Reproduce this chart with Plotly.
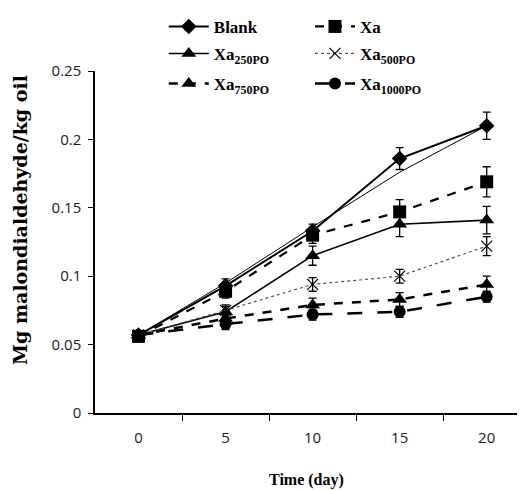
import plotly.graph_objects as go

days = [0, 5, 10, 15, 20]
tick_labels = ["0", "5", "10", "15", "20"]

blank = [0.057, 0.093, 0.133, 0.186, 0.210]
blank_err = [0.003, 0.005, 0.005, 0.008, 0.010]
blank_thin = [0.057, 0.095, 0.136, 0.176, 0.210]

xa = [0.056, 0.089, 0.130, 0.147, 0.169]
xa_err = [0.003, 0.005, 0.006, 0.009, 0.011]

xa250 = [0.057, 0.074, 0.115, 0.138, 0.141]
xa250_err = [0.003, 0.004, 0.007, 0.009, 0.010]

xa500 = [0.057, 0.075, 0.094, 0.100, 0.122]
xa500_err = [0.003, 0.004, 0.005, 0.005, 0.007]

xa750 = [0.057, 0.069, 0.079, 0.083, 0.094]
xa750_err = [0.003, 0.004, 0.005, 0.005, 0.006]

xa1000 = [0.057, 0.065, 0.072, 0.074, 0.085]
xa1000_err = [0.003, 0.004, 0.004, 0.004, 0.004]

fig = go.Figure()

def err(e):
    return dict(type="data", array=e, visible=True, color="black", thickness=1.3, width=4)

lf = dict(family="Liberation Serif", size=17, color="black")

fig.add_trace(go.Scatter(x=days, y=blank_thin, mode="lines", line=dict(color="black", width=1),
                         showlegend=False, hoverinfo="skip"))
fig.add_trace(go.Scatter(x=days, y=blank, name="<b>Blank</b>", mode="lines+markers",
                         line=dict(color="black", width=2),
                         marker=dict(symbol="diamond", size=12, color="black"),
                         error_y=err(blank_err), legend="legend"))
fig.add_trace(go.Scatter(x=days, y=xa, name="<b>Xa</b>", mode="lines+markers",
                         line=dict(color="black", width=2.2, dash="dash"),
                         marker=dict(symbol="square", size=13, color="black"),
                         error_y=err(xa_err), legend="legend2"))
fig.add_trace(go.Scatter(x=days, y=xa250, name="<b>Xa<sub>250PO</sub></b>", mode="lines+markers",
                         line=dict(color="black", width=1.6),
                         marker=dict(symbol="triangle-up", size=13, color="black"),
                         error_y=err(xa250_err), legend="legend3"))
fig.add_trace(go.Scatter(x=days, y=xa500, name="<b>Xa<sub>500PO</sub></b>", mode="lines+markers",
                         line=dict(color="#555555", width=1.2, dash="dot"),
                         marker=dict(symbol="x-thin-open", size=11, color="black",
                                     line=dict(color="black", width=1.2)),
                         error_y=err(xa500_err), legend="legend4"))
fig.add_trace(go.Scatter(x=days, y=xa750, name="<b>Xa<sub>750PO</sub></b>", mode="lines+markers",
                         line=dict(color="black", width=2.5, dash="dash"),
                         marker=dict(symbol="triangle-up", size=13, color="black"),
                         error_y=err(xa750_err), legend="legend5"))
fig.add_trace(go.Scatter(x=days, y=xa1000, name="<b>Xa<sub>1000PO</sub></b>", mode="lines+markers",
                         line=dict(color="black", width=2.5, dash="longdash"),
                         marker=dict(symbol="circle", size=12, color="black"),
                         error_y=err(xa1000_err), legend="legend6"))

tickfont = dict(family="Open Sans", size=15, color="#222222")

def leg(x, y):
    return dict(x=x, y=y, xanchor="left", yanchor="middle", font=lf,
                bgcolor="rgba(0,0,0,0)", itemwidth=40)

fig.update_layout(
    width=517, height=482,
    margin=dict(l=87, r=0, t=63, b=77),
    plot_bgcolor="white", paper_bgcolor="white",
    xaxis=dict(range=[-2.5, 22.2], tickvals=days, ticktext=tick_labels, ticks="",
               showline=True, linecolor="black", linewidth=1.5, showgrid=False, zeroline=False,
               tickfont=tickfont, ticklabelstandoff=10,
               minor=dict(tickmode="array", tickvals=[2.5, 7.5, 12.5, 17.5], ticks="outside",
                          ticklen=6, tickwidth=1.3, tickcolor="black", showgrid=False)),
    yaxis=dict(range=[0, 0.25], tickvals=[0, 0.05, 0.1, 0.15, 0.2, 0.25],
               ticktext=["0", "0.05", "0.1", "0.15", "0.2", "0.25"],
               ticks="outside", ticklen=5, tickwidth=1.3, tickcolor="black",
               showline=True, linecolor="black", linewidth=1.5, showgrid=False, zeroline=False,
               tickfont=tickfont, ticklabelstandoff=4),
    legend=leg(0.16, 1.129),
    legend2=leg(0.5, 1.129),
    legend3=leg(0.16, 1.05),
    legend4=leg(0.5, 1.05),
    legend5=leg(0.16, 0.962),
    legend6=leg(0.5, 0.962),
    annotations=[
        dict(text="<b>Mg malondialdehyde/kg oil</b>", xref="paper", yref="paper",
             x=-0.174, y=0.565, textangle=-90, showarrow=False, xanchor="center", yanchor="middle",
             font=dict(family="DejaVu Serif", size=19, color="black")),
        dict(text="<b>Time (day)</b>", xref="paper", yref="paper",
             x=0.493, y=-0.196, xanchor="center", yanchor="middle", showarrow=False,
             font=dict(family="Liberation Serif", size=16, color="black")),
    ],
)

fig.write_html("out.html")
